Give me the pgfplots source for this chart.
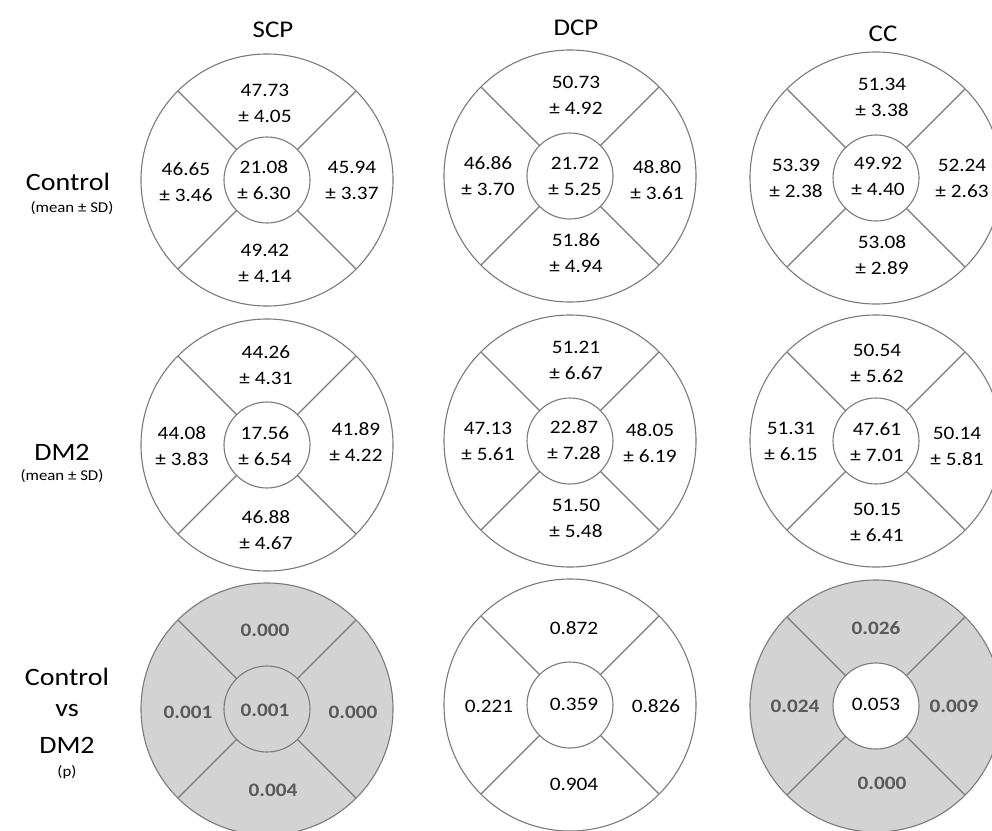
\documentclass[border=0pt]{standalone}
\usepackage{fontspec}
\setmainfont{Carlito}[FakeStretch=1.12]
\usepackage{pgfplots}
\usepackage{pgfplotstable}
\pgfplotsset{compat=1.18}
\definecolor{ln}{HTML}{7A7A7A}
\definecolor{gfill}{HTML}{D3D3D3}
\definecolor{gtxt}{HTML}{595959}
\newcommand\numfont{\fontsize{19}{23}\selectfont}

\pgfplotstableread{
x y
267 180
570 176
876 178
267 445
570 441
876 441
570 705
}\whiteOuter
\pgfplotstableread{
x y
267 709
876 706
}\greyOuter
\pgfplotstableread{
x y
267 180
570 176
876 178
267 445
570 441
876 441
570 705
876 706
}\whiteInner
\pgfplotstableread{
x y
267 709
}\greyInner
\pgfplotstableread{
x y m s
265 103 47.73 4.05
186 182 46.65 3.46
264 180 21.08 6.30
352 180 45.94 3.37
265 263 49.42 4.14
576 95 50.73 4.92
488 176 46.86 3.70
575 176 21.72 5.25
657 180 48.80 3.61
576 253 51.86 4.94
882 97 51.34 3.38
796 178 53.39 2.38
878 176 49.92 4.40
962 178 52.24 2.63
882 255 53.08 2.89
266 365 44.26 4.31
182 446 44.08 3.83
265 446 17.56 6.54
356 442 41.89 4.22
266 530 46.88 4.67
576 360 51.21 6.67
488 441 47.13 5.61
574 440 22.87 7.28
650 443 48.05 6.19
576 518 51.50 5.48
877 363 50.54 5.62
791 441 51.31 6.15
877 442 47.61 7.01
957 446 50.14 5.81
877 522 50.15 6.41
}\msT
\pgfplotstableread{
x y p
574 628 0.872
489 706 0.221
574 704 0.359
656 706 0.826
574 784 0.904
876 704 0.053
}\pNormal
\pgfplotstableread{
x y p
265 630 0.000
188 712 0.001
265 710 0.001
353 712 0.000
273 790 0.004
876 628 0.026
795 706 0.024
954 706 0.009
882 783 0.000
}\pBold

\begin{document}
\begin{tikzpicture}
\begin{axis}[width=992pt, height=830pt, scale only axis,
  xmin=0, xmax=992, ymin=0, ymax=830, y dir=reverse,
  hide axis, clip=false, clip marker paths=true, unbounded coords=jump]
% outer discs
\addplot[only marks, mark=*, mark size=126pt, color=ln, line width=1.1pt,
  mark options={fill=white}] table {\whiteOuter};
\addplot[only marks, mark=*, mark size=126pt, color=ln, line width=1.1pt,
  mark options={fill=gfill}] table {\greyOuter};
% diagonal sector dividers (full diagonals, centre covered by the inner disc)
\addplot[color=ln, line width=1.1pt, mark=none] table {
x y
178 91
356 269
nan nan
178 269
356 91
nan nan
481 87
659 265
nan nan
481 265
659 87
nan nan
787 89
965 267
nan nan
787 267
965 89
nan nan
178 356
356 534
nan nan
178 534
356 356
nan nan
481 352
659 530
nan nan
481 530
659 352
nan nan
787 352
965 530
nan nan
787 530
965 352
nan nan
178 620
356 798
nan nan
178 798
356 620
nan nan
481 616
659 794
nan nan
481 794
659 616
nan nan
787 617
965 795
nan nan
787 795
965 617
};
% inner discs
\addplot[only marks, mark=*, mark size=43pt, color=ln, line width=1.1pt,
  mark options={fill=white}] table {\whiteInner};
\addplot[only marks, mark=*, mark size=43pt, color=ln, line width=1.1pt,
  mark options={fill=gfill}] table {\greyInner};
% values
\addplot[only marks, mark=none, point meta=explicit symbolic, nodes near coords,
  every node near coord/.append style={anchor=center, font=\numfont, text=black}]
  table[x=x, y expr=\thisrow{y}-13, meta=m] {\msT};
\addplot[only marks, mark=none, point meta=explicit symbolic,
  nodes near coords={± \pgfplotspointmeta},
  every node near coord/.append style={anchor=center, font=\numfont, text=black}]
  table[x=x, y expr=\thisrow{y}+13, meta=s] {\msT};
\addplot[only marks, mark=none, point meta=explicit symbolic, nodes near coords,
  every node near coord/.append style={anchor=center, font=\numfont, text=black}]
  table[x=x, y=y, meta=p] {\pNormal};
\addplot[only marks, mark=none, point meta=explicit symbolic, nodes near coords,
  every node near coord/.append style={anchor=center, font=\numfont\bfseries, text=gtxt}]
  table[x=x, y=y, meta=p] {\pBold};
% titles
\node[font=\fontsize{24}{28}\selectfont] at (axis cs:273,30) {SCP};
\node[font=\fontsize{24}{28}\selectfont] at (axis cs:576,28) {DCP};
\node[font=\fontsize{24}{28}\selectfont] at (axis cs:883,34) {CC};
% row labels
\node[font=\fontsize{25}{29}\selectfont] at (axis cs:68,182) {Control};
\node[font=\fontsize{15}{18}\selectfont] at (axis cs:72,208) {(mean ± SD)};
\node[font=\fontsize{25}{29}\selectfont] at (axis cs:62,452) {DM2};
\node[font=\fontsize{15}{18}\selectfont] at (axis cs:62,476) {(mean ± SD)};
\node[font=\fontsize{25}{29}\selectfont] at (axis cs:67,677) {Control};
\node[font=\fontsize{25}{29}\selectfont] at (axis cs:67,711) {vs};
\node[font=\fontsize{25}{29}\selectfont] at (axis cs:67,745) {DM2};
\node[font=\fontsize{15}{18}\selectfont] at (axis cs:67,772) {(p)};
\end{axis}
\pgfresetboundingbox
\path[use as bounding box] (current axis.south west) rectangle (current axis.north east);
\end{tikzpicture}
\end{document}
